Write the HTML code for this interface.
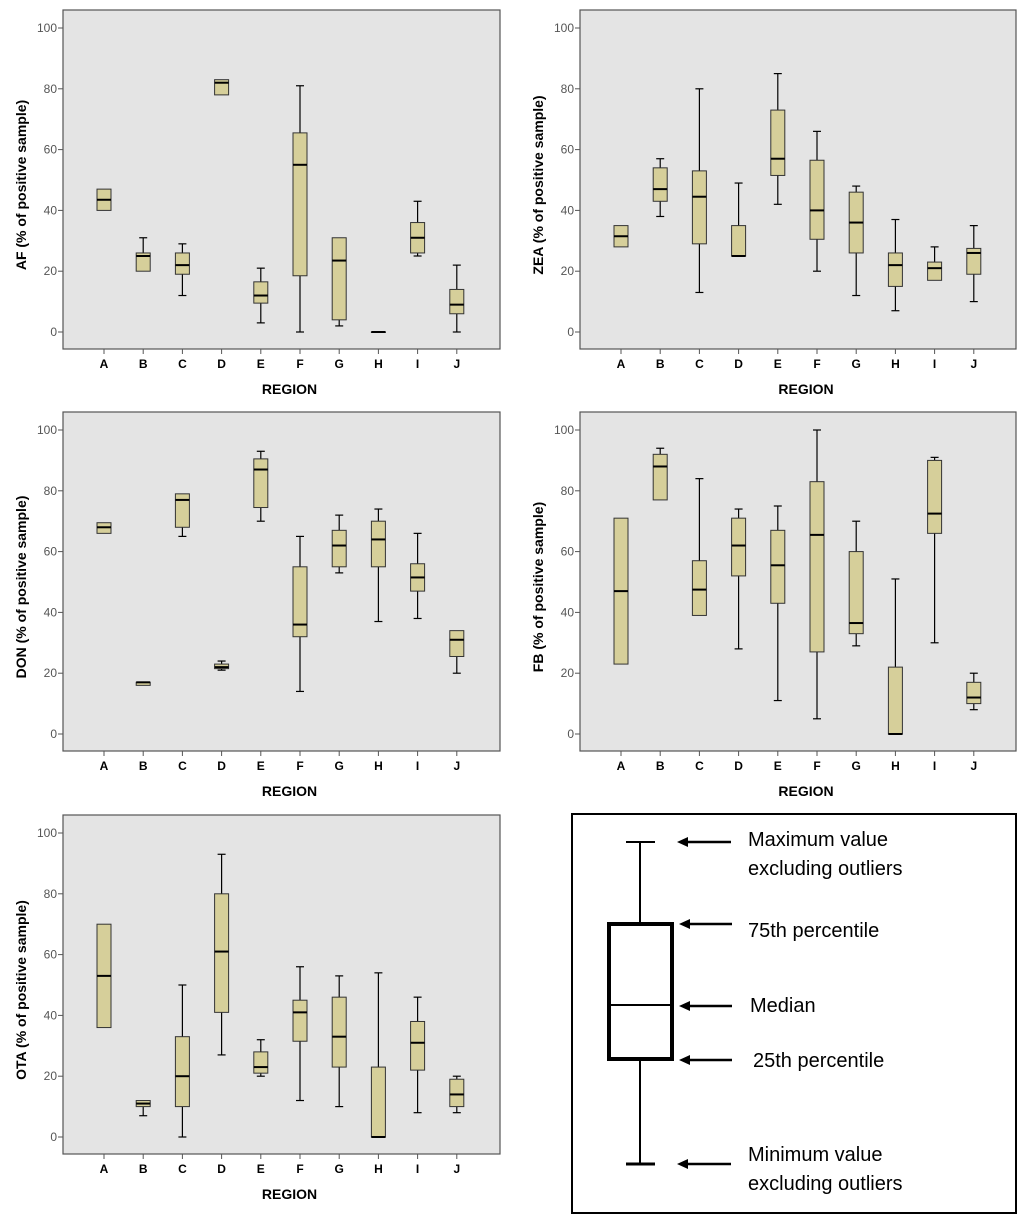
<!DOCTYPE html>
<html><head><meta charset="utf-8"><style>
body{margin:0;background:#fff;font-family:"Liberation Sans",sans-serif}
</style></head><body>
<svg id="s" width="1024" height="1219" xmlns="http://www.w3.org/2000/svg"></svg>
<script>
const categories=["A","B","C","D","E","F","G","H","I","J"];
const yTicks=[0,20,40,60,80,100];
const afData=[[40,40,43.5,47,47],[20,20,25,26,31],[12,19,22,26,29],[78,78,82,83,83],[3,9.5,12,16.5,21],[0,18.5,55,65.5,81],[2,4,23.5,31,31],[0,0,0,0,0],[25,26,31,36,43],[0,6,9,14,22]];
const zeaData=[[28,28,31.5,35,35],[38,43,47,54,57],[13,29,44.5,53,80],[25,25,25,35,49],[42,51.5,57,73,85],[20,30.5,40,56.5,66],[12,26,36,46,48],[7,15,22,26,37],[17,17,21,23,28],[10,19,26,27.5,35]];
const donData=[[66,66,68,69.5,69.5],[16,16,17,17,17],[65,68,77,79,79],[21,21.5,22,23,24],[70,74.5,87,90.5,93],[14,32,36,55,65],[53,55,62,67,72],[37,55,64,70,74],[38,47,51.5,56,66],[20,25.5,31,34,34]];
const fbData=[[23,23,47,71,71],[77,77,88,92,94],[39,39,47.5,57,84],[28,52,62,71,74],[11,43,55.5,67,75],[5,27,65.5,83,100],[29,33,36.5,60,70],[0,0,0,22,51],[30,66,72.5,90,91],[8,10,12,17,20]];
const otaData=[[36,36,53,70,70],[7,10,11,12,12],[0,10,20,33,50],[27,41,61,80,93],[20,21,23,28,32],[12,31.5,41,45,56],[10,23,33,46,53],[0,0,0,23,54],[8,22,31,38,46],[8,10,14,19,20]];
const panels=[["af",afData,63,10,437],["zea",zeaData,580,10,436],["don",donData,63,412,437],["fb",fbData,580,412,436],["ota",otaData,63,815,437]];
const NS="http://www.w3.org/2000/svg";const svg=document.getElementById('s');
function mk(t,a,p){const e=document.createElementNS(NS,t);for(const k in a)e.setAttribute(k,a[k]);(p||svg).appendChild(e);return e;}
panels.forEach(([name,data,x0,y0,w])=>{
 const g=mk('g',{});
 
 
 const H=339;const ys=v=>y0+322-v*3.04;const xs=i=>x0+41+i*39.2;
 const fr=mk('rect',{x:x0,y:y0,width:w,height:H,fill:'#e4e4e4',stroke:'#555','stroke-width':1.2},g);
 
 
 yTicks.forEach(t=>{mk('line',{x1:x0-5,x2:x0,y1:ys(t),y2:ys(t),stroke:'#555'},g);
  const tx=mk('text',{x:x0-6,y:ys(t)+4,'text-anchor':'end','font-size':12,fill:'#555'},g);tx.textContent=t;
  
  });
 categories.forEach((c,i)=>{const x=xs(i);mk('line',{x1:x,x2:x,y1:y0+H,y2:y0+H+5,stroke:'#555'},g);
  const tx=mk('text',{x:x,y:y0+H+19,'text-anchor':'middle','font-size':12,'font-weight':'bold'},g);tx.textContent=c;
  
  
  const [mn,q1,md,q3,mx]=data[i];
  const b=mk('g',{},g);
  
  
  if(mx>q3){mk('line',{x1:x,x2:x,y1:ys(mx),y2:ys(q3),stroke:'#000','stroke-width':1.2},b);mk('line',{x1:x-4,x2:x+4,y1:ys(mx),y2:ys(mx),stroke:'#000','stroke-width':1.2},b);}
  if(mn<q1){mk('line',{x1:x,x2:x,y1:ys(q1),y2:ys(mn),stroke:'#000','stroke-width':1.2},b);mk('line',{x1:x-4,x2:x+4,y1:ys(mn),y2:ys(mn),stroke:'#000','stroke-width':1.2},b);}
  mk('rect',{x:x-7,y:ys(q3),width:14,height:Math.max(ys(q1)-ys(q3),0.5),fill:'#d6cf9a',stroke:'#333','stroke-width':1},b);
  mk('line',{x1:x-7,x2:x+7,y1:ys(md),y2:ys(md),stroke:'#000','stroke-width':2},b);
 });
 const rl=mk('text',{x:x0+w/2+8,y:y0+384,'text-anchor':'middle','font-size':14,'font-weight':'bold'},g);rl.textContent='REGION';
 
 
 const cy=y0+175,cx=x0-37;
 const yt=mk('text',{x:cx,y:cy,transform:`rotate(-90 ${cx} ${cy})`,'text-anchor':'middle','font-size':14,'font-weight':'bold'},g);
 yt.textContent=name.toUpperCase()+' (% of positive sample)';
 
 
});
</script>
<svg style="position:absolute;left:0;top:0" width="1024" height="1219">
<rect x="572" y="814" width="444" height="399" fill="#fff" stroke="#000" stroke-width="2"/>
<g stroke="#000" fill="none">
<line x1="640" y1="842" x2="640" y2="923" stroke-width="2"/>
<line x1="626" y1="842" x2="655" y2="842" stroke-width="2"/>
<rect x="609" y="924" width="63" height="135" stroke-width="4"/>
<line x1="609" y1="1005" x2="672" y2="1005" stroke-width="2"/>
<line x1="640" y1="1059" x2="640" y2="1164" stroke-width="2"/>
<line x1="626" y1="1164" x2="655" y2="1164" stroke-width="3"/>
<g stroke-width="2.5">
<line x1="684" y1="842" x2="731" y2="842"/><line x1="686" y1="924" x2="732" y2="924"/>
<line x1="686" y1="1006" x2="732" y2="1006"/><line x1="686" y1="1060" x2="732" y2="1060"/>
<line x1="684" y1="1164" x2="731" y2="1164"/></g></g>
<g fill="#000"><polygon points="677,842 688,837 688,847"/><polygon points="679,924 690,919 690,929"/><polygon points="679,1006 690,1001 690,1011"/><polygon points="679,1060 690,1055 690,1065"/><polygon points="677,1164 688,1159 688,1169"/></g>
<g font-family="Liberation Sans,sans-serif" font-size="20" fill="#000">
<text x="748" y="846">Maximum value</text><text x="748" y="875">excluding outliers</text>
<text x="748" y="937">75th percentile</text><text x="750" y="1012">Median</text>
<text x="753" y="1067">25th percentile</text>
<text x="748" y="1161">Minimum value</text><text x="748" y="1190">excluding outliers</text></g>
</svg>
</body></html>
